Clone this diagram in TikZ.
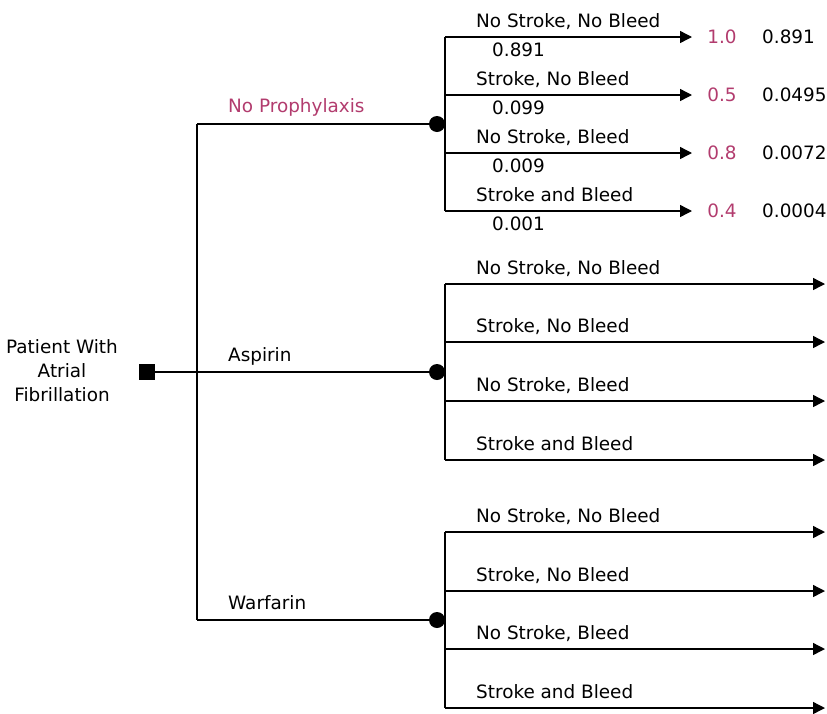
\documentclass[tikz,border=0pt]{standalone}
\usepackage{fontspec}
\setmainfont{DejaVu Sans}
\usetikzlibrary{arrows.meta}
\definecolor{PlumRed}{RGB}{178,60,110}
\tikzset{
  decision/.style={rectangle,fill=black,minimum size=16pt,inner sep=0pt},
  chance/.style={circle,fill=black,minimum size=16pt,inner sep=0pt},
  branch/.style={draw=black,line width=1.4pt},
  outcome/.style={branch,-{Triangle[length=12pt,width=12pt]}},
  lbl/.style={anchor=base west,inner sep=0pt,font=\fontsize{18.4}{24}\selectfont},
}
\tikzset{val/.style={anchor=base,inner sep=0pt,font=\fontsize{18.4}{24}\selectfont,text=PlumRed},
  pay/.style={lbl}}

\begin{document}
\begin{tikzpicture}[x=1pt,y=-1pt]
\useasboundingbox (0,0) rectangle (827,713);
% decision node and strategies
\node[decision] (root) at (147,372) {};
\node[align=center,inner sep=0pt,font=\fontsize{18.4}{24}\selectfont] (patient) at (62,371) {Patient With\\Atrial\\Fibrillation};
\coordinate (j1) at (197,124);
\coordinate (j3) at (197,620);
\node[chance] (c1) at (437,124) {};
\node[chance] (c2) at (437,372) {};
\node[chance] (c3) at (437,620) {};
\draw[branch] (root) -- (c2);
\draw[branch] (j1) -- (j3);
\draw[branch] (j1) -- (c1);
\draw[branch] (j3) -- (c3);
\node[lbl,text=PlumRed] (s1) at (228,112) {No Prophylaxis};
\node[lbl] (s2) at (228,361) {Aspirin};
\node[lbl] (s3) at (228,609) {Warfarin};
% no prophylaxis outcomes
\coordinate (v1a) at (445,37);
\coordinate (v1b) at (445,211);
\draw[branch] (v1a) -- (v1b);
\foreach \y/\txt/\p/\u/\ev [count=\i] in {37/{No Stroke, No Bleed}/0.891/1.0/0.891,
    95/{Stroke, No Bleed}/0.099/0.5/0.0495,
    153/{No Stroke, Bleed}/0.009/0.8/0.0072,
    211/{Stroke and Bleed}/0.001/0.4/0.0004}{
  \coordinate (a1\i) at (445,\y);
  \coordinate (t1\i) at (692,\y);
  \draw[outcome] (a1\i) -- (t1\i);
  \node[lbl] (o1\i) at (476,\y-10) {\txt};
  \node[lbl] (p1\i) at (492,\y+19) {\p};
  \node[val] (u1\i) at (722,\y+6) {\u};
  \node[pay] (e1\i) at (762,\y+6) {\ev};
}
% aspirin and warfarin outcomes
\foreach \g/\top/\bot in {2/284/460,3/532/708}{
  \coordinate (v\g a) at (445,\top);
  \coordinate (v\g b) at (445,\bot);
  \draw[branch] (v\g a) -- (v\g b);
}
\foreach \g/\y/\txt [count=\i] in {2/284/{No Stroke, No Bleed},2/342/{Stroke, No Bleed},
    2/401/{No Stroke, Bleed},2/460/{Stroke and Bleed},
    3/532/{No Stroke, No Bleed},3/591/{Stroke, No Bleed},
    3/649/{No Stroke, Bleed},3/708/{Stroke and Bleed}}{
  \coordinate (a\g\i) at (445,\y);
  \coordinate (t\g\i) at (825,\y);
  \draw[outcome] (a\g\i) -- (t\g\i);
  \node[lbl] (o\g\i) at (476,\y-10) {\txt};
}
\end{tikzpicture}
\end{document}
